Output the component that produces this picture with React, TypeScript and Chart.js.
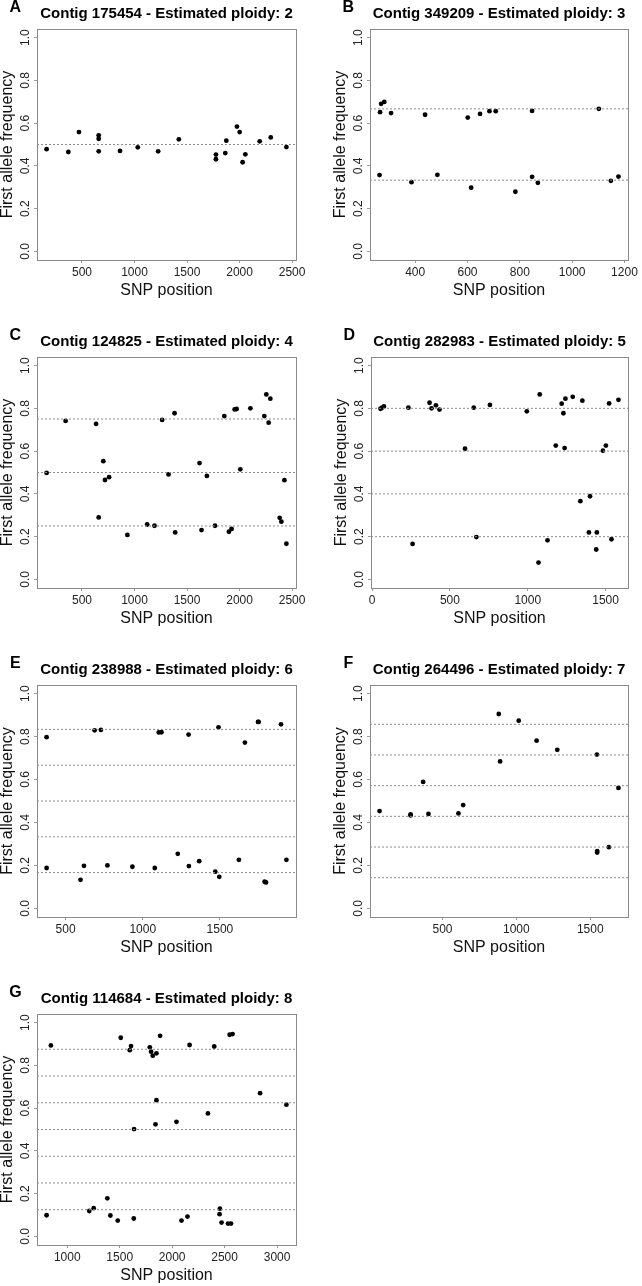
import React, { useEffect, useRef } from 'react';
import { Chart, registerables } from 'chart.js';

Chart.register(...registerables);

const FONT = '"Liberation Sans", Arial, Helvetica, sans-serif';
Chart.defaults.font.family = FONT;

// ---------- data ----------
const letters = ['A', 'B', 'C', 'D', 'E', 'F', 'G'];
const contigs = ['175454', '349209', '124825', '282983', '238988', '264496', '114684'];
const ploidies = [2, 3, 4, 5, 6, 7, 8];

const yTicks = [0, 0.2, 0.4, 0.6, 0.8, 1.0];

const xTicksA = [500, 1000, 1500, 2000, 2500];
const xTicksB = [400, 600, 800, 1000, 1200];
const xTicksC = [500, 1000, 1500, 2000, 2500];
const xTicksD = [0, 500, 1000, 1500];
const xTicksE = [500, 1000, 1500];
const xTicksF = [500, 1000, 1500];
const xTicksG = [1000, 1500, 2000, 2500, 3000];

const posA = [163, 370, 471, 659, 659, 659, 862, 1031, 1225, 1422, 1775, 1775, 1864, 1874, 1975, 2001, 2029, 2055, 2192, 2297, 2446];
const freqA = [0.478, 0.465, 0.558, 0.543, 0.527, 0.468, 0.47, 0.487, 0.468, 0.524, 0.453, 0.431, 0.46, 0.518, 0.584, 0.558, 0.417, 0.454, 0.515, 0.533, 0.488];

const posB = [266, 270, 282, 308, 438, 601, 648, 684, 708, 847, 1102, 264, 386, 485, 614, 783, 847, 869, 1148, 1177];
const freqB = [0.651, 0.69, 0.699, 0.647, 0.639, 0.626, 0.643, 0.656, 0.656, 0.657, 0.667, 0.357, 0.324, 0.358, 0.298, 0.279, 0.349, 0.321, 0.33, 0.35];

const posC = [163, 344, 634, 659, 703, 719, 758, 932, 1120, 1190, 1263, 1324, 1381, 1387, 1619, 1638, 1689, 1766, 1855, 1899, 1924, 1953, 1972, 2007, 2103, 2236, 2255, 2277, 2293, 2382, 2398, 2427, 2446];
const freqC = [0.498, 0.741, 0.727, 0.29, 0.553, 0.465, 0.478, 0.208, 0.257, 0.251, 0.746, 0.491, 0.777, 0.22, 0.544, 0.231, 0.484, 0.251, 0.764, 0.223, 0.236, 0.795, 0.797, 0.515, 0.8, 0.764, 0.865, 0.733, 0.845, 0.288, 0.27, 0.464, 0.167];

const posD = [54, 64, 76, 233, 260, 369, 382, 410, 433, 597, 653, 670, 757, 994, 1069, 1077, 1127, 1180, 1218, 1229, 1237, 1242, 1289, 1338, 1351, 1393, 1400, 1440, 1444, 1483, 1502, 1523, 1538, 1583];
const freqD = [0.798, 0.803, 0.809, 0.803, 0.166, 0.826, 0.8, 0.814, 0.794, 0.611, 0.803, 0.198, 0.816, 0.786, 0.079, 0.865, 0.183, 0.626, 0.822, 0.777, 0.614, 0.845, 0.854, 0.366, 0.836, 0.22, 0.389, 0.14, 0.22, 0.602, 0.626, 0.823, 0.188, 0.84];

const posE = [377, 377, 597, 619, 688, 729, 771, 933, 1078, 1104, 1121, 1227, 1297, 1299, 1366, 1470, 1491, 1496, 1623, 1662, 1747, 1751, 1790, 1799, 1896, 1931];
const freqE = [0.797, 0.188, 0.133, 0.198, 0.829, 0.831, 0.2, 0.194, 0.188, 0.819, 0.82, 0.254, 0.809, 0.197, 0.22, 0.171, 0.843, 0.147, 0.226, 0.772, 0.868, 0.868, 0.124, 0.121, 0.857, 0.226];

const posF = [74, 284, 284, 369, 405, 608, 640, 881, 890, 1016, 1137, 1277, 1545, 1547, 1547, 1626, 1691];
const freqF = [0.453, 0.438, 0.433, 0.589, 0.44, 0.442, 0.481, 0.905, 0.684, 0.874, 0.781, 0.738, 0.716, 0.267, 0.26, 0.285, 0.561];

const posG = [803, 844, 1210, 1252, 1382, 1411, 1481, 1510, 1596, 1608, 1634, 1637, 1787, 1799, 1815, 1850, 1841, 1850, 1885, 2041, 2089, 2146, 2166, 2341, 2401, 2455, 2452, 2471, 2548, 2576, 2532, 2561, 2838, 3089];
const freqG = [0.099, 0.893, 0.119, 0.132, 0.178, 0.098, 0.074, 0.929, 0.871, 0.89, 0.084, 0.502, 0.884, 0.864, 0.845, 0.856, 0.524, 0.637, 0.938, 0.536, 0.074, 0.093, 0.895, 0.575, 0.888, 0.13, 0.104, 0.065, 0.943, 0.946, 0.06, 0.06, 0.67, 0.616];

const positions = [posA, posB, posC, posD, posE, posF, posG];
const freqs = [freqA, freqB, freqC, freqD, freqE, freqF, freqG];
const xTickSets = [xTicksA, xTicksB, xTicksC, xTicksD, xTicksE, xTicksF, xTicksG];

// ---------- layout (canvas placement & plot box inside each canvas) ----------
const cells = [
  { left: 0, top: 0, w: 321, h: 321, box: { l: 37, r: 296, t: 29, b: 260 } },
  { left: 321, top: 0, w: 321, h: 321, box: { l: 49, r: 307, t: 29, b: 260 } },
  { left: 0, top: 321, w: 321, h: 321, box: { l: 37, r: 296, t: 36, b: 267 } },
  { left: 321, top: 321, w: 321, h: 321, box: { l: 50, r: 307, t: 36, b: 267 } },
  { left: 0, top: 642, w: 321, h: 321, box: { l: 37, r: 296, t: 43, b: 275 } },
  { left: 321, top: 642, w: 321, h: 321, box: { l: 49, r: 307, t: 43, b: 275 } },
  { left: 0, top: 963, w: 321, h: 323, box: { l: 37, r: 296, t: 51, b: 282 } },
];

const rBoxPlugin = {
  id: 'rbox',
  afterDraw(chart: any) {
    const { ctx, chartArea: a, scales } = chart;
    const o = chart.options.plugins.rbox;
    ctx.save();
    // box
    ctx.strokeStyle = '#8a8a8a';
    ctx.lineWidth = 1;
    const L = Math.round(a.left), R = Math.round(a.right), T = Math.round(a.top), B = Math.round(a.bottom);
    ctx.strokeRect(L + 0.5, T + 0.5, R - L, B - T);
    // rotated y tick labels
    ctx.fillStyle = '#222';
    ctx.font = `12px ${FONT}`;
    ctx.textAlign = 'center';
    ctx.textBaseline = 'middle';
    for (const v of o.yTicks) {
      const y = scales.y.getPixelForValue(v);
      ctx.save();
      ctx.translate(a.left - 11.5, y);
      ctx.rotate(-Math.PI / 2);
      ctx.fillText(v.toFixed(1), 0, 0);
      ctx.restore();
    }
    // panel letter
    ctx.fillStyle = '#000';
    ctx.font = `bold 16px ${FONT}`;
    ctx.fillText(o.letter, a.left - 21.6, a.top - 21);
    ctx.restore();
  },
};

function Panel({ idx }: { idx: number }) {
  const ref = useRef<HTMLCanvasElement | null>(null);
  const cell = cells[idx];
  useEffect(() => {
    const pos = positions[idx];
    const freq = freqs[idx];
    const xTicks = xTickSets[idx];
    const ploidy = ploidies[idx];
    const { w, h, box } = cell;
    const dmin = Math.min(...pos);
    const dmax = Math.max(...pos);
    const pad = (dmax - dmin) * 0.04;
    const xmin = dmin - pad;
    const xmax = dmax + pad;
    const levels: number[] = [];
    for (let k = 1; k < ploidy; k++) levels.push(k / ploidy);

    const chart = new Chart(ref.current as HTMLCanvasElement, {
      type: 'scatter',
      data: {
        datasets: [
          ...levels.map((lv) => ({
            type: 'line' as const,
            data: [{ x: xmin, y: lv }, { x: xmax, y: lv }],
            borderColor: '#8c8c8c',
            borderWidth: 1,
            borderDash: [2, 2],
            pointRadius: 0,
            showLine: true,
            fill: false,
          })),
          {
            type: 'scatter' as const,
            data: pos.map((x, i) => ({ x, y: freq[i] })),
            pointRadius: 2.4,
            pointHoverRadius: 2.4,
            backgroundColor: '#000',
            borderWidth: 0,
          },
        ],
      } as any,
      options: {
        animation: false,
        responsive: false,
        events: [],
        layout: { padding: { left: 0, top: 0, right: w - box.r, bottom: 0 } },
        plugins: {
          legend: { display: false },
          tooltip: { enabled: false },
          title: {
            display: true,
            text: `Contig ${contigs[idx]} - Estimated ploidy: ${ploidy}`,
            fullSize: false,
            color: '#000',
            font: { size: 15, weight: 'bold', family: FONT, lineHeight: 1 },
            padding: { top: box.t - 22.5, bottom: 7.5 },
          },
          rbox: { yTicks, letter: letters[idx] },
        } as any,
        scales: {
          x: {
            type: 'linear',
            position: 'bottom',
            min: xmin,
            max: xmax,
            afterBuildTicks: (s: any) => {
              s.ticks = xTicks.map((v) => ({ value: v }));
            },
            afterFit: (s: any) => {
              s.height = h - box.b;
            },
            ticks: {
              font: { size: 12, family: FONT, lineHeight: 1 },
              color: '#222',
              padding: 3.5,
              maxRotation: 0,
              autoSkip: false,
              callback: (v: any) => String(v),
            },
            grid: { drawOnChartArea: false, drawTicks: true, tickLength: 3, color: '#9a9a9a', tickColor: '#9a9a9a' },
            border: { display: false },
            title: {
              display: true,
              text: 'SNP position',
              color: '#111',
              font: { size: 16, family: FONT, lineHeight: 1 },
              padding: { top: 0, bottom: h - 8 - (box.b + 31) },
            },
          },
          y: {
            type: 'linear',
            min: -0.04,
            max: 1.04,
            afterBuildTicks: (s: any) => {
              s.ticks = yTicks.map((v) => ({ value: v }));
            },
            afterFit: (s: any) => {
              s.width = box.l;
            },
            ticks: { display: false },
            grid: { drawOnChartArea: false, drawTicks: true, tickLength: 3, color: '#9a9a9a', tickColor: '#9a9a9a' },
            border: { display: false },
            title: {
              display: true,
              text: 'First allele frequency',
              color: '#111',
              font: { size: 16, family: FONT, lineHeight: 1 },
              padding: { top: box.l - 37, bottom: 0 },
            },
          },
        },
      } as any,
      plugins: [rBoxPlugin],
    });
    return () => chart.destroy();
  }, [idx]);

  return (
    <canvas
      ref={ref}
      width={cell.w}
      height={cell.h}
      style={{ position: 'absolute', left: cell.left, top: cell.top, width: cell.w, height: cell.h }}
    />
  );
}

export default function App() {
  return (
    <div style={{ position: 'absolute', left: 0, top: 0, width: 642, height: 1286, background: '#fff' }}>
      {letters.map((_, i) => (
        <Panel key={i} idx={i} />
      ))}
    </div>
  );
}
